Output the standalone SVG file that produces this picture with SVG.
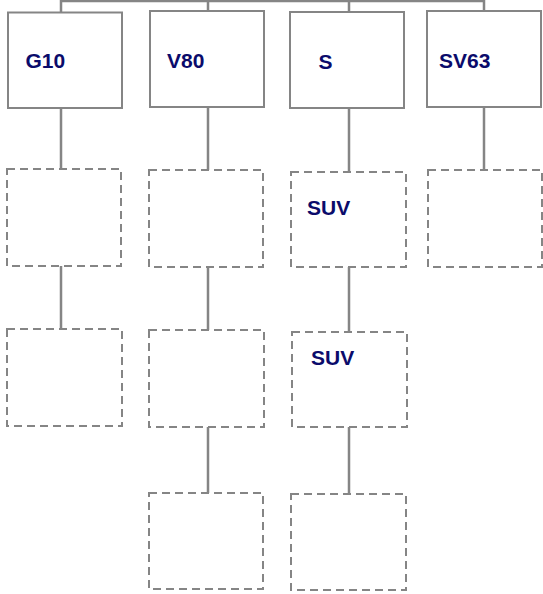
<svg xmlns="http://www.w3.org/2000/svg" width="543" height="594" viewBox="0 0 543 594">
<style>
.solid{fill:#fff;stroke:#858585;stroke-width:2}
.dash{fill:#fff;stroke:#858585;stroke-width:2;stroke-dasharray:8,5}
.conn{fill:none;stroke:#858585;stroke-width:2.5}
.lbl{font-family:"Liberation Sans",Arial,sans-serif;font-weight:bold;font-size:21px;fill:#0b0b6b}
</style>
<rect width="543" height="594" fill="#fff"/>
<g id="connectors">
<path class="conn" d="M61,12 V1 H484 V11 M208,11 V1 M349,12 V1"/>
<path class="conn" d="M61,108 V169 M61,266 V329"/>
<path class="conn" d="M208,107 V170 M208,267 V330 M208,427 V493"/>
<path class="conn" d="M349,108 V172 M349,267 V332 M349,427 V494"/>
<path class="conn" d="M484,107 V170"/>
</g>
<g id="G10"><rect class="solid" x="8" y="12.5" width="114" height="95.5"/><text class="lbl" x="25.5" y="67.5">G10</text></g>
<g id="V80"><rect class="solid" x="150" y="11" width="114" height="96"/><text class="lbl" x="167" y="67.5">V80</text></g>
<g id="S"><rect class="solid" x="290" y="12" width="114" height="96"/><text class="lbl" x="318.5" y="69">S</text></g>
<g id="SV63"><rect class="solid" x="427" y="11" width="114" height="96"/><text class="lbl" x="439" y="68">SV63</text></g>
<g id="G10-c1"><rect class="dash" x="7" y="169" width="114" height="97"/></g>
<g id="G10-c2"><rect class="dash" x="7" y="329" width="115" height="97"/></g>
<g id="V80-c1"><rect class="dash" x="149" y="170" width="114" height="97"/></g>
<g id="V80-c2"><rect class="dash" x="149" y="330" width="115" height="97"/></g>
<g id="V80-c3"><rect class="dash" x="149" y="493" width="114" height="96"/></g>
<g id="S-c1"><rect class="dash" x="291" y="172" width="115" height="95"/><text class="lbl" x="307" y="215">SUV</text></g>
<g id="S-c2"><rect class="dash" x="292" y="332" width="115" height="95"/><text class="lbl" x="311" y="365">SUV</text></g>
<g id="S-c3"><rect class="dash" x="291" y="494" width="115" height="96"/></g>
<g id="SV63-c1"><rect class="dash" x="428" y="170" width="114" height="97"/></g>
</svg>
